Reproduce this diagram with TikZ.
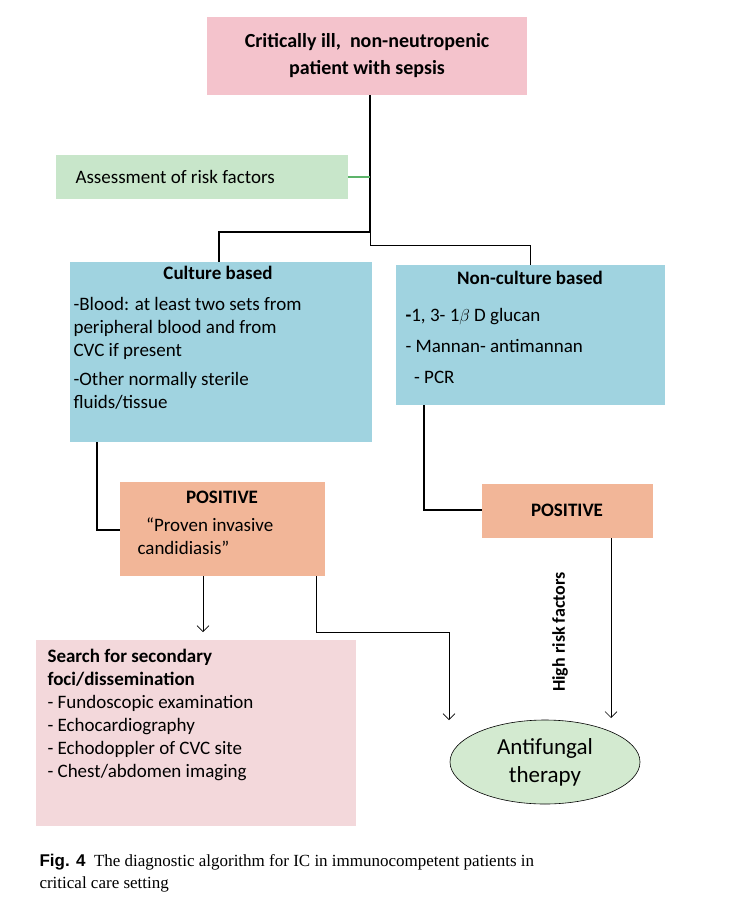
\documentclass[tikz,border=0pt]{standalone}
\usepackage{fontspec}
\usetikzlibrary{arrows.meta,shapes.geometric}
\setmainfont{Carlito}
\newfontfamily\capfont{Liberation Serif}
\definecolor{topP}{HTML}{F4C3CC}
\definecolor{grn}{HTML}{C8E6CA}
\definecolor{blu}{HTML}{A0D3E0}
\definecolor{org}{HTML}{F2B698}
\definecolor{lpk}{HTML}{F3D8DB}
\definecolor{ell}{HTML}{D3EAD0}
\definecolor{gline}{HTML}{5DB46A}
\begin{document}
\begin{tikzpicture}[x=1pt,y=-1pt,
 ln/.style={line width=1.2pt},
 thin/.style={line width=0.6pt,-{Straight Barb[length=6pt]}},
 txt/.style={font=\fontsize{19}{23}\selectfont,anchor=west,align=left}]
\useasboundingbox (0,0) rectangle (738,920);
\fill[topP] (207,17) rectangle (527,95);
\node[font=\bfseries\fontsize{20}{27}\selectfont,align=center] (top) at (367,56) {Critically ill,\ \ non-neutropenic\\patient with sepsis};
\fill[grn] (56,155) rectangle (348,199);
\node[txt] (risk) at (72,177) {Assessment of risk factors};
\fill[blu] (70,262) rectangle (372,442);
\fill[blu] (396,265) rectangle (665,405);
\node[font=\bfseries\fontsize{19}{23}\selectfont] (cb) at (218,273) {Culture based};
\node[txt,anchor=north west] (cbt) at (70,294) {-Blood: at least two sets from\\peripheral blood and from\\CVC if present\\[6pt]-Other normally sterile\\fluids/tissue};
\node[font=\bfseries\fontsize{19}{23}\selectfont] (ncb) at (530,278) {Non-culture based};
\node[txt,anchor=north west] (ncbt) at (402,305) {\textbf{-}1, 3- 1$\beta$ D glucan\\[8pt]- Mannan- antimannan\\[8pt]\ \ - PCR};
\fill[org] (120,482) rectangle (325,576);
\node[font=\bfseries\fontsize{19}{23}\selectfont] (p1) at (222,497) {POSITIVE};
\node[txt,anchor=north west] (p1t) at (134,514) {\ \ ``Proven invasive\\candidiasis''};
\fill[org] (482,484) rectangle (653,538);
\node[font=\bfseries\fontsize{19}{23}\selectfont] (p2) at (567,510) {POSITIVE};
\fill[lpk] (36,640) rectangle (356,826);
\node[txt,anchor=north west] (sf) at (44,646) {\textbf{Search for secondary}\\\textbf{foci/dissemination}\\- Fundoscopic examination\\- Echocardiography\\- Echodoppler of CVC site\\- Chest/abdomen imaging};
\node[ellipse,fill=ell,draw=black,line width=0.6pt,minimum width=190pt,minimum height=84pt,align=center,font=\fontsize{23}{28}\selectfont] (ef) at (545,762) {Antifungal\\therapy};
\node[rotate=90,font=\bfseries\fontsize{18}{22}\selectfont] (hr) at (560,632) {High risk factors};
\coordinate (j1) at (370,232); \coordinate (j2) at (370,245);
\draw[ln] (370,95) -- (j1) -| (219,262);
\draw[line width=0.6pt] (j1) -- (j2) -| (530,265);
\draw[gline,line width=1.2pt] (348,177) -- (370,177);
\draw[ln] (97,442) |- (120,530);
\draw[ln] (424,405) |- (482,510);
\draw[thin] (203,576) -- (203,632);
\draw[thin] (316,576) |- (449,632) -- (449,720);
\draw[thin] (611,538) -- (611,718);
\node[anchor=west,font=\capfont\fontsize{17}{22}\selectfont,align=left] (cap) at (36,873) {\textbf{\fontspec{Liberation Sans}Fig. 4}\ \ The diagnostic algorithm for IC in immunocompetent patients in\\critical care setting};
\end{tikzpicture}
\end{document}
